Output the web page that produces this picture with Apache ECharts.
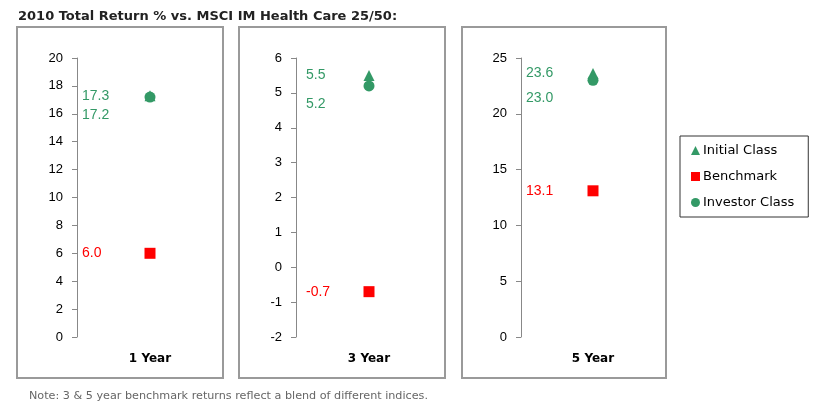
<!DOCTYPE html>
<html>
<head>
<meta charset="utf-8">
<script src="https://cdn.jsdelivr.net/npm/echarts@6/dist/echarts.min.js"></script>
<style>
  html, body { margin: 0; padding: 0; background: #fff; }
  #chart { width: 819px; height: 409px; }
</style>
</head>
<body>
<div id="chart"></div>
<script>
// values
const periods = ["1 Year", "3 Year", "5 Year"];
const initialClass = [17.3, 5.5, 23.6];
const benchmark = [6.0, -0.7, 13.1];
const investorClass = [17.2, 5.2, 23.0];
const axisMin = [0, -2, 0];
const axisMax = [20, 6, 25];
const axisStep = [2, 1, 5];

const green = "#339966";
const red = "#ff0000";

// panel layout (pixels)
const gridLeft = [77, 296, 521];
const gridWidth = [146, 146, 144];
const labelX = [82, 306, 526];
const boxes = [[17, 27, 206, 351], [239, 27, 206, 351], [462, 27, 204, 351]];

const chart = echarts.init(document.getElementById("chart"));

const grids = [], xAxes = [], yAxes = [], series = [];
periods.forEach((p, i) => {
  grids.push({ left: gridLeft[i], top: 58, width: gridWidth[i], height: 279 });
  xAxes.push({
    type: "category", gridIndex: i, data: [p],
    axisLine: { show: false, onZero: false }, axisTick: { show: false },
    axisLabel: { margin: 16, fontFamily: "DejaVu Sans", fontWeight: "bold", fontSize: 12, color: "#000" }
  });
  yAxes.push({
    type: "value", gridIndex: i, min: axisMin[i], max: axisMax[i], interval: axisStep[i],
    splitLine: { show: false },
    axisLine: { show: true, lineStyle: { color: "#888", width: 1 } },
    axisTick: { show: true, length: 5, lineStyle: { color: "#888" } },
    axisLabel: { margin: 14, fontFamily: "Liberation Sans", fontSize: 13, color: "#000" }
  });
  const cx = gridLeft[i] + gridWidth[i] / 2;
  const dist = cx - 5.5 - labelX[i];
  const mk = (name, vals, symbol, color, dy) => ({
    name, type: "scatter", xAxisIndex: i, yAxisIndex: i,
    data: [[p, vals[i]]], symbol, symbolSize: 11,
    itemStyle: { color, opacity: 1 },
    label: {
      show: true, position: "left", distance: dist, align: "left",
      offset: [0, dy], color, fontFamily: "Liberation Sans", fontSize: 14,
      formatter: (d) => d.value[1].toFixed(1)
    }
  });
  series.push(mk("Initial Class", initialClass, "triangle", green, 0));
  series.push(mk("Benchmark", benchmark, "rect", red, 0));
  series.push(mk("Investor Class", investorClass, "circle", green, 18));
});

const boxGraphics = boxes.map(b => ({
  type: "rect", silent: true, z: -1,
  shape: { x: b[0], y: b[1], width: b[2], height: b[3] },
  style: { fill: "#fff", stroke: "#9a9a9a", lineWidth: 2 }
}));

chart.setOption({
  backgroundColor: "#fff",
  animation: false,
  title: [
    {
      text: "2010 Total Return % vs. MSCI IM Health Care 25/50:", left: 13, top: 5,
      textStyle: { fontFamily: "DejaVu Sans", fontWeight: "bold", fontSize: 13, color: "#222" }
    },
    {
      text: "Note: 3 & 5 year benchmark returns reflect a blend of different indices.", left: 24, top: 386,
      textStyle: { fontFamily: "DejaVu Sans", fontWeight: "normal", fontSize: 11.2, color: "#666" }
    }
  ],
  legend: {
    orient: "vertical", left: 680, top: 136,
    data: [
      { name: "Initial Class", icon: "triangle" },
      { name: "Benchmark", icon: "rect" },
      { name: "Investor Class", icon: "circle" }
    ],
    itemWidth: 9, itemHeight: 9, itemGap: 13,
    padding: [8, 14, 8, 11],
    borderColor: "#333", borderWidth: 1,
    textStyle: { fontFamily: "DejaVu Sans", fontSize: 13, color: "#000", padding: [0, 0, 0, -2] }
  },
  graphic: boxGraphics,
  grid: grids,
  xAxis: xAxes,
  yAxis: yAxes,
  series
});
</script>
</body>
</html>
